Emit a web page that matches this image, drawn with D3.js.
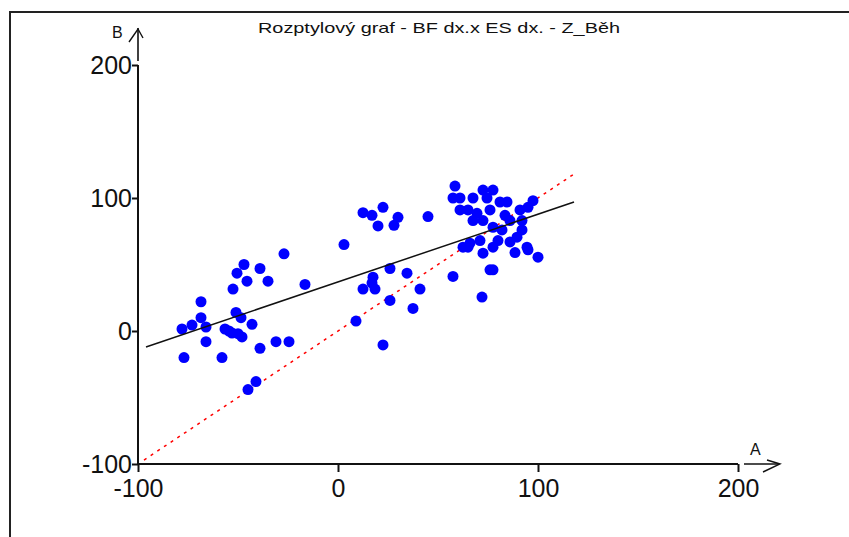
<!DOCTYPE html>
<html><head><meta charset="utf-8">
<script src="https://cdn.jsdelivr.net/npm/d3@7"></script>
<style>body{margin:0;background:#fff}svg{display:block}</style>
</head><body><svg id="c" width="849" height="537"></svg>
<script>
const title = "Rozptylový graf - BF dx.x ES dx. - Z_Běh";
const xTicks = [-100, 0, 100, 200];
const yTicks = [-100, 0, 100, 200];
const xLabel = "A", yLabel = "B";
const ptsA = [-27,-47,-50.5,-39,-45.5,-35,-52.5,-16.5,-68.5,-51,-68.5,-48.5,-73,-78,-66,-43,-56.5,-53,-48,-66,-39,-31,-24.5,-77,-58,-41,-45,-54.5,-50,
 12.5,17,22.5,20,30,28,45,3,26,34.5,17.5,12.5,18.5,41,26,37.5,9,22.5,17,
 58.5,57.5,61,67.5,72.5,77.5,74.5,81,84.5,65,69.5,72.5,67.5,91,97.5,95,77.5,82,92,89.5,80,77.5,86,94.5,88.5,95,100,72.5,65,62.5,76,77.5,57.5,72,92,86,61,76,83.5,71,66];
const ptsB = [58,50,43.5,47,37.5,37.5,31.5,35,22,14,10,10,4.5,1.5,3,5,1.5,-1.5,-4.5,-8,-13,-8,-8,-20,-20,-38,-44,0,-2,
 89,87,93,79,85.5,79.5,86,65,47,43.5,40.5,31.5,31.5,31.5,23,17,7.5,-10.5,36,
 109,100,91,100,106,106,100,97,97,91,88.5,83,83,91,98,93,78,76,76,70.5,68,63,67,63,59,61,55.5,58.5,63,63,46,46,41,25.5,83,83,100,91,87,68,66];
const regA = [-96, 118], regB = [-12, 97];
const idA = [-97, 118], idB = [-97, 118];

const svg = d3.select("#c");
const x = d3.scaleLinear().domain([-100, 200]).range([138, 738]);
const y = d3.scaleLinear().domain([-100, 200]).range([464, 65]);
const font = "'Liberation Sans', Arial, sans-serif";

// frame
svg.append("path").attr("d","M10,537 L10,12 L849,12").attr("fill","none").attr("stroke","#222").attr("stroke-width",2);

// title
svg.append("text").attr("x",258).attr("y",33).attr("font-family",font).attr("font-size",15)
  .attr("textLength",362).attr("lengthAdjust","spacingAndGlyphs").attr("fill","#111").text(title);

// axes
const xAxis = d3.axisBottom(x).tickValues(xTicks).tickSize(8).tickFormat(d3.format("d"));
const gx = svg.append("g").attr("transform",`translate(0,${y(-100)})`).call(xAxis);
gx.select(".domain").attr("d",`M${x(-100)},0H${x(200)}`).attr("stroke","#111").attr("stroke-width",2);
gx.selectAll(".tick line").attr("stroke","#111").attr("stroke-width",2);
gx.selectAll(".tick text").attr("font-family",font).attr("font-size",25).attr("fill","#111").attr("dy","0.75em").attr("y",14);

const yAxis = d3.axisLeft(y).tickValues(yTicks).tickSize(6).tickFormat(d3.format("d"));
const gy = svg.append("g").attr("transform",`translate(${x(-100)},0)`).call(yAxis);
gy.select(".domain").attr("d",`M0,${y(200)}V${y(-100)}`).attr("stroke","#111").attr("stroke-width",2);
gy.selectAll(".tick line").attr("stroke","#111").attr("stroke-width",2);
gy.selectAll(".tick text").attr("font-family",font).attr("font-size",25).attr("fill","#111").attr("x",-6).attr("dy","0.34em");
svg.selectAll(".tick text").each(function(){ this.textContent = this.textContent.replace("−","-"); });

// arrows
const ax = x(-100), ay = y(-100);
svg.append("line").attr("x1",ax).attr("x2",ax).attr("y1",28).attr("y2",61).attr("stroke","#111").attr("stroke-width",1.6);
svg.append("path").attr("d",`M${ax-9},42 L${ax},29 L${ax+5},38`).attr("fill","none").attr("stroke","#111").attr("stroke-width",1.4);
svg.append("line").attr("x1",744).attr("x2",779).attr("y1",ay).attr("y2",ay).attr("stroke","#111").attr("stroke-width",1.6);
svg.append("path").attr("d",`M767,460 L780,${ay} L763,472`).attr("fill","none").attr("stroke","#111").attr("stroke-width",1.4);
svg.append("text").attr("x",ax-26).attr("y",38).attr("font-family",font).attr("font-size",16).attr("fill","#111").text(yLabel);
svg.append("text").attr("x",750).attr("y",455).attr("font-family",font).attr("font-size",16).attr("fill","#111").text(xLabel);

// identity dashed line
const ln = d3.line().x(d=>x(d[0])).y(d=>y(d[1]));
svg.append("path").attr("d",ln(d3.zip(idA,idB))).attr("fill","none").attr("stroke","#ff0000").attr("stroke-width",1.5).attr("stroke-dasharray","3,5");

// points
svg.append("g").selectAll("circle").data(d3.zip(ptsA,ptsB)).join("circle")
  .attr("cx",d=>x(d[0])).attr("cy",d=>y(d[1])).attr("r",5.5).attr("fill","#0000ff");

// regression line
svg.append("path").attr("d",ln(d3.zip(regA,regB))).attr("fill","none").attr("stroke","#111").attr("stroke-width",1.5);
</script></body></html>
